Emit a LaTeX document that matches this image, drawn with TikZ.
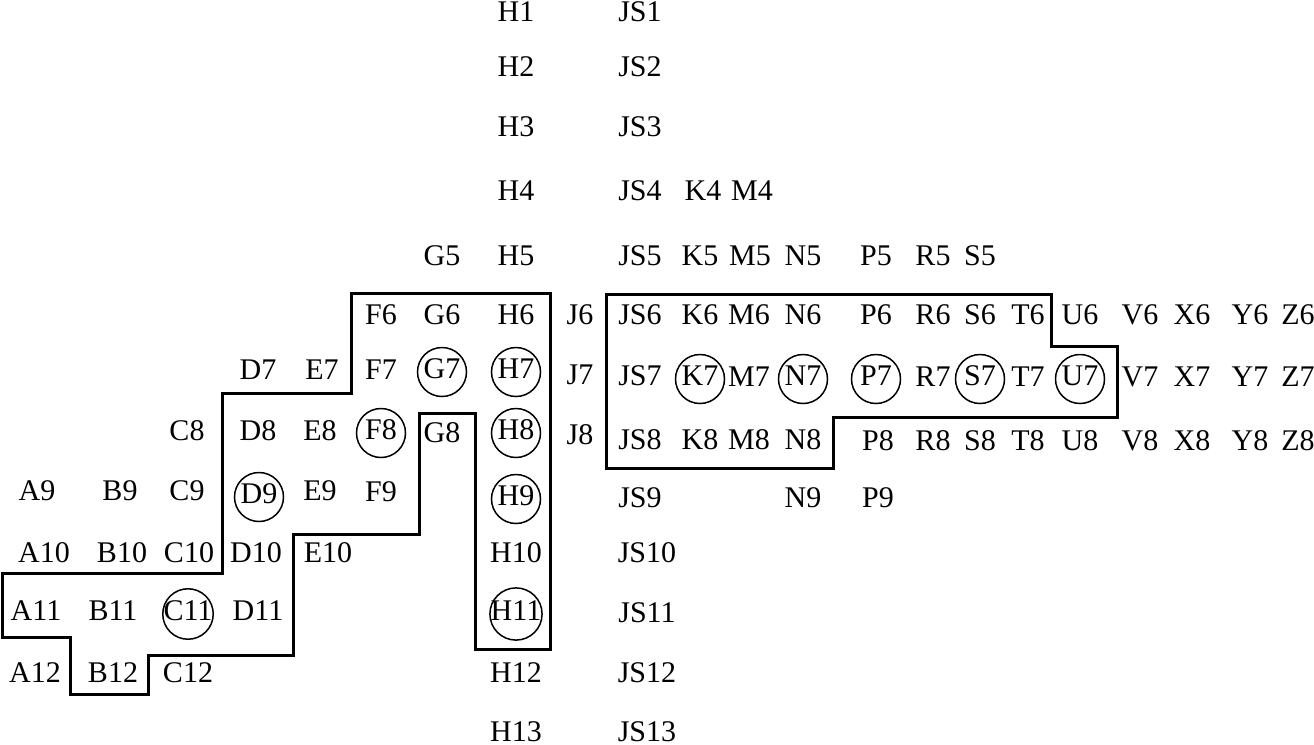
\documentclass[tikz,border=0pt]{standalone}
\usepackage{fontspec}
\setmainfont{Liberation Serif}
\usepackage{tikz}

\begin{document}
\begin{tikzpicture}[x=0.5pt,y=-0.5pt,
  every node/.style={font=\fontsize{15pt}{18pt}\selectfont,inner sep=0pt,text height=0.66em,text depth=0pt},
  ring/.style={circle,draw,line width=0.75pt,minimum size=24.5pt}]
\useasboundingbox (0,0) rectangle (1314,745);
% outlines
\draw[line width=1.5pt,line join=miter] (351,293) -- (550,293) -- (550,649) -- (475,649) -- (475,413) -- (419,413) -- (419,534) -- (293,534) -- (293,655) -- (148,655) -- (148,694) -- (70,694) -- (70,637) -- (2,637) -- (2,573) -- (222,573) -- (222,393) -- (351,393) -- cycle;
\draw[line width=1.5pt,line join=miter] (606,294) -- (1051,294) -- (1051,346) -- (1117,346) -- (1117,417) -- (833,417) -- (833,468) -- (606,468) -- cycle;
% rows 1-5
\node (H1) at (516,15) {H1};
\node (JS1) at (640,15) {JS1};
\node (H2) at (516,70) {H2};
\node (JS2) at (640,70) {JS2};
\node (H3) at (516,130) {H3};
\node (JS3) at (640,130) {JS3};
\node (H4) at (516,194) {H4};
\node (JS4) at (640,194) {JS4};
\node (K4) at (703,194) {K4};
\node (M4) at (752,194) {M4};
\node (G5) at (442,259) {G5};
\node (H5) at (516,259) {H5};
\node (JS5) at (640,259) {JS5};
\node (K5) at (700,259) {K5};
\node (M5) at (750,259) {M5};
\node (N5) at (803,259) {N5};
\node (P5) at (876,259) {P5};
\node (R5) at (933,259) {R5};
\node (S5) at (980,259) {S5};
% row 6
\node (F6) at (381,318) {F6};
\node (G6) at (442,318) {G6};
\node (H6) at (516,318) {H6};
\node (J6) at (580,318) {J6};
\node (JS6) at (640,318) {JS6};
\node (K6) at (700,318) {K6};
\node (M6) at (749,318) {M6};
\node (N6) at (803,318) {N6};
\node (P6) at (876,318) {P6};
\node (R6) at (933,318) {R6};
\node (S6) at (980,318) {S6};
\node (T6) at (1028,318) {T6};
\node (U6) at (1080,318) {U6};
\node (V6) at (1140,318) {V6};
\node (X6) at (1192,318) {X6};
\node (Y6) at (1250,318) {Y6};
\node (Z6) at (1298,318) {Z6};
% row 7
\node (D7) at (258,373) {D7};
\node (E7) at (322,373) {E7};
\node (F7) at (381,373) {F7};
\node[ring] (G7) at (442,372) {G7};
\node[ring] (H7) at (516,372) {H7};
\node (J7) at (580,378) {J7};
\node (JS7) at (640,379) {JS7};
\node[ring] (K7) at (700,379) {K7};
\node (M7) at (749,380) {M7};
\node[ring] (N7) at (803,379) {N7};
\node[ring] (P7) at (876,379) {P7};
\node (R7) at (933,380) {R7};
\node[ring] (S7) at (980,379) {S7};
\node (T7) at (1028,380) {T7};
\node[ring] (U7) at (1080,379) {U7};
\node (V7) at (1140,380) {V7};
\node (X7) at (1192,380) {X7};
\node (Y7) at (1250,380) {Y7};
\node (Z7) at (1298,380) {Z7};
% row 8
\node (C8) at (187,434) {C8};
\node (D8) at (258,434) {D8};
\node (E8) at (320,434) {E8};
\node[ring] (F8) at (381,433) {F8};
\node (G8) at (442,436) {G8};
\node[ring] (H8) at (516,433) {H8};
\node (J8) at (580,438) {J8};
\node (JS8) at (640,443) {JS8};
\node (K8) at (700,443) {K8};
\node (M8) at (749,443) {M8};
\node (N8) at (803,443) {N8};
\node (P8) at (878,444) {P8};
\node (R8) at (933,444) {R8};
\node (S8) at (980,444) {S8};
\node (T8) at (1028,444) {T8};
\node (U8) at (1080,444) {U8};
\node (V8) at (1140,444) {V8};
\node (X8) at (1192,444) {X8};
\node (Y8) at (1250,444) {Y8};
\node (Z8) at (1298,444) {Z8};
% row 9
\node (A9) at (37,494) {A9};
\node (B9) at (120,494) {B9};
\node (C9) at (187,494) {C9};
\node[ring] (D9) at (259,497) {D9};
\node (E9) at (320,494) {E9};
\node (F9) at (381,495) {F9};
\node[ring] (H9) at (516,499) {H9};
\node (JS9) at (640,501) {JS9};
\node (N9) at (803,501) {N9};
\node (P9) at (878,501) {P9};
% row 10
\node (A10) at (44,556) {A10};
\node (B10) at (122,556) {B10};
\node (C10) at (189,556) {C10};
\node (D10) at (256,556) {D10};
\node (E10) at (328,556) {E10};
\node (H10) at (516,556) {H10};
\node (JS10) at (647,556) {JS10};
% row 11
\node (A11) at (36,614) {A11};
\node (B11) at (113,614) {B11};
\node[ring] (C11) at (188,614) {C11};
\node (D11) at (258,614) {D11};
\node[ring] (H11) at (516,614) {H11};
\node (JS11) at (647,616) {JS11};
% row 12
\node (A12) at (35,676) {A12};
\node (B12) at (113,676) {B12};
\node (C12) at (188,676) {C12};
\node (H12) at (516,676) {H12};
\node (JS12) at (647,676) {JS12};
% row 13
\node (H13) at (516,735) {H13};
\node (JS13) at (647,735) {JS13};
\end{tikzpicture}
\end{document}
